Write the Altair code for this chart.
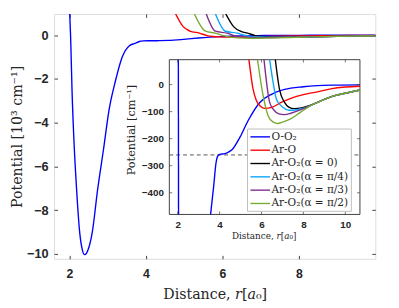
import altair as alt
import pandas as pd

# ---------------- data ----------------
CURVES = ["O-O₂", "Ar-O", "Ar-O₂(α = 0)", "Ar-O₂(α = π/4)", "Ar-O₂(α = π/3)", "Ar-O₂(α = π/2)"]
COLORS = ["#0000ff", "#ff0000", "#000000", "#0aa5ff", "#7e2f8e", "#77ac30"]

# distance r [a0], potential V [cm^-1]
R_OO2 = [2.01, 2.03, 2.04, 2.07, 2.12, 2.19, 2.27, 2.34, 2.40, 2.45, 2.49, 2.60, 2.74, 2.89,
         3.04, 3.21, 3.38, 3.57, 3.72, 3.83, 3.93, 4.05, 4.20, 4.35, 4.59, 4.98, 5.37, 5.92,
         6.50, 7.10, 8.00, 8.66, 9.50, 10.7]
V_OO2 = [970, 92, -480, -2500, -4800, -7050, -9000, -9810, -10030, -9960, -9810, -9000, -7050, -5260,
         -3400, -2060, -1010, -480, -373, -289, -262, -257, -256, -252, -241, -193, -132, -66,
         -35, -18, -8, -4, -2, -1]

R_ARO = [4.78, 4.97, 5.15, 5.40, 5.60, 5.76, 5.95, 6.16, 6.50, 6.94, 7.50, 8.00, 8.66, 9.30, 10.0, 10.7]
V_ARO = [970, 400, 190, 92, -18, -60, -80, -88, -84, -66, -48, -37, -27, -16, -9, -6]

R_A0 = [6.09, 6.30, 6.50, 6.66, 6.86, 7.10, 7.30, 7.57, 7.90, 8.35, 9.00, 9.45, 10.0, 10.7]
V_A0 = [970, 380, 160, 92, -18, -66, -83, -89, -86, -76, -55, -42, -32, -20]

R_A45 = [5.82, 6.08, 6.39, 6.55, 6.71, 7.00, 7.33, 7.60, 8.00, 8.35, 9.00, 9.45, 10.0, 10.7]
V_A45 = [970, 180, 92, 10, -54, -83, -95, -94, -87, -77, -55, -42, -32, -20]

R_A60 = [5.58, 5.82, 6.12, 6.39, 6.60, 6.80, 7.10, 7.40, 7.88, 8.35, 9.00, 9.45, 10.0, 10.7]
V_A60 = [970, 180, 92, -66, -95, -107, -111, -106, -93, -77, -55, -42, -32, -20]

R_A90 = [5.27, 5.56, 5.81, 6.08, 6.31, 6.55, 6.78, 7.00, 7.41, 7.90, 8.35, 9.00, 9.45, 10.0, 10.7]
V_A90 = [970, 180, 92, -42, -114, -138, -144, -139, -126, -100, -78, -55, -42, -32, -20]

SERIES = [(R_OO2, V_OO2), (R_ARO, V_ARO), (R_A0, V_A0), (R_A45, V_A45), (R_A60, V_A60), (R_A90, V_A90)]

MAIN_X = [1.6, 10.0]
MAIN_Y = [-10.22, 0.97]          # in 10^3 cm^-1
MAIN_XTICKS = [2, 4, 6, 8]
MAIN_YTICKS = [0, -2, -4, -6, -8, -10]

INSET_X = [1.6, 10.7]
INSET_Y = [-480, 92]             # in cm^-1
INSET_XTICKS = [2, 4, 6, 8, 10]
INSET_YTICKS = [0, -100, -200, -300, -400]
DASH_LEVEL = [-260]

# ---------------- tables ----------------
rows = []
for name, (rs, vs) in zip(CURVES, SERIES):
    for r, v in zip(rs, vs):
        rows.append({"curve": name, "r": r, "V": v})
df = pd.DataFrame(rows)

# inset: only the part inside the inset window, split into continuous runs
ins = []
for name, g in df.groupby("curve", sort=False):
    seg = 0
    for _, row in g.iterrows():
        inside = INSET_Y[0] <= row.V <= INSET_Y[1] and INSET_X[0] <= row.r <= INSET_X[1]
        if inside:
            ins.append({"curve": name, "r": row.r, "V": row.V, "seg": f"{name}-{seg}"})
        else:
            seg += 1
df_in = pd.DataFrame(ins)

# ---------------- layout / style ----------------
W, H = 328, 250
IX0, IX1, IY0, IY1 = 117.7, 312.3, 46.7, 204.7     # inset box inside the plot area
AX = "#404040"
TXT = "#262626"
SERIF = "DejaVu Serif"
SANS = "Liberation Sans"
TL = 3.5

legend = alt.Legend(
    title=None, orient="none", legendX=197, legendY=117,
    fillColor="white", strokeColor="#bdbdbd", padding=2.5,
    labelFont=SERIF, labelFontSize=10.7, labelColor=TXT, labelOffset=10.5,
    symbolType="M-1,0H3", symbolSize=100, symbolStrokeWidth=1.4, rowPadding=2.6,
)
color = alt.Color("curve:N", scale=alt.Scale(domain=CURVES, range=COLORS), sort=CURVES, legend=legend)

main = alt.Chart(df).transform_calculate(Vk="datum.V / 1000").mark_line(
    interpolate="monotone", clip=True, strokeWidth=1.4
).encode(
    x=alt.X("r:Q", scale=alt.Scale(domain=MAIN_X, nice=False, zero=False),
            axis=alt.Axis(values=MAIN_XTICKS, title="Distance, 𝑟[𝑎₀]", orient="bottom",
                          domain=False, ticks=False, tickSize=0, labelPadding=9,
                          labelFont=SANS, labelFontWeight="bold", labelFontSize=12.5, labelColor=TXT,
                          titleFont=SERIF, titleFontSize=14.5, titleFontWeight="normal", titleColor=TXT,
                          titlePadding=8,
                          grid=True, gridColor=AX, gridOpacity=1, gridWidth=1, gridDash=[TL, H - 2 * TL])),
    y=alt.Y("Vk:Q", scale=alt.Scale(domain=MAIN_Y, nice=False, zero=False),
            axis=alt.Axis(values=MAIN_YTICKS, title="Potential [10³ cm⁻¹]", orient="left",
                          domain=False, ticks=False, tickSize=0, labelPadding=6,
                          labelFont=SANS, labelFontWeight="bold", labelFontSize=13, labelColor=TXT,
                          titleFont=SERIF, titleFontSize=14.5, titleFontWeight="normal", titleColor=TXT,
                          titlePadding=2,
                          grid=True, gridColor=AX, gridOpacity=1, gridWidth=1, gridDash=[TL, W - 2 * TL])),
    color=color,
)

ix_scale = alt.Scale(domain=INSET_X, range=[IX0, IX1], nice=False, zero=False)
iy_scale = alt.Scale(domain=INSET_Y, range=[IY1, IY0], nice=False, zero=False)
ix_axis = alt.Axis(values=INSET_XTICKS, title="Distance, 𝑟[𝑎₀]", orient="bottom", offset=-(H - IY1),
                   domain=False, ticks=False, tickSize=0, grid=False, labelPadding=5,
                   labelFont=SANS, labelFontWeight="bold", labelFontSize=10, labelColor=TXT,
                   titleFont=SERIF, titleFontSize=9, titleFontWeight="normal", titleColor=TXT,
                   titlePadding=3, titleX=214)
iy_axis = alt.Axis(values=INSET_YTICKS, title="Potential [cm⁻¹]", orient="left", offset=-IX0,
                   domain=False, ticks=False, tickSize=0, grid=False, labelPadding=6,
                   labelFont=SANS, labelFontWeight="bold", labelFontSize=10, labelColor=TXT,
                   titleFont=SERIF, titleFontSize=11.5, titleFontWeight="normal", titleColor=TXT,
                   titlePadding=5, titleY=118)


def ix(f="r"):
    return alt.X(f"{f}:Q", scale=ix_scale, axis=ix_axis)


def iy(f="V"):
    return alt.Y(f"{f}:Q", scale=iy_scale, axis=iy_axis)


frame_df = pd.DataFrame({"r": [INSET_X[0]], "r2": [INSET_X[1]], "V": [INSET_Y[0]], "V2": [INSET_Y[1]]})
frame = alt.Chart(frame_df).mark_rect(fill="white", stroke=AX, strokeWidth=1).encode(
    x=ix(), x2="r2:Q", y=iy(), y2="V2:Q")

dash_df = pd.DataFrame({"r": [INSET_X[0]], "r2": [INSET_X[1]], "V": DASH_LEVEL})
dash = alt.Chart(dash_df).mark_rule(color="#555555", strokeDash=[4, 3], strokeWidth=1).encode(
    x=ix(), x2="r2:Q", y=iy())

inset_lines = alt.Chart(df_in).mark_line(interpolate="monotone", strokeWidth=1.4).encode(
    x=ix(), y=iy(), color=color, detail="seg:N")

xt_bot = pd.DataFrame({"r": INSET_XTICKS, "V": [INSET_Y[0]] * len(INSET_XTICKS)})
xt_top = pd.DataFrame({"r": INSET_XTICKS, "V": [INSET_Y[1]] * len(INSET_XTICKS)})
yt_l = pd.DataFrame({"V": INSET_YTICKS, "r": [INSET_X[0]] * len(INSET_YTICKS)})
yt_r = pd.DataFrame({"V": INSET_YTICKS, "r": [INSET_X[1]] * len(INSET_YTICKS)})
tk = dict(color=AX, thickness=1, size=3)
t1 = alt.Chart(xt_bot).mark_tick(orient="vertical", yOffset=-1.5, **tk).encode(x=ix(), y=iy())
t2 = alt.Chart(xt_top).mark_tick(orient="vertical", yOffset=1.5, **tk).encode(x=ix(), y=iy())
t3 = alt.Chart(yt_l).mark_tick(orient="horizontal", xOffset=1.5, **tk).encode(x=ix(), y=iy())
t4 = alt.Chart(yt_r).mark_tick(orient="horizontal", xOffset=-1.5, **tk).encode(x=ix(), y=iy())

inset = alt.layer(frame, dash, inset_lines, t1, t2, t3, t4)

chart = alt.layer(main, inset).resolve_scale(x="independent", y="independent").properties(
    width=W, height=H,
    autosize=alt.AutoSizeParams(type="none"),
    padding={"left": 47, "top": 3, "right": 16, "bottom": 40},
).configure_view(stroke=AX, strokeWidth=1).configure(background="white")

chart.save("out.html", embed_options={"renderer": "svg", "actions": False})
